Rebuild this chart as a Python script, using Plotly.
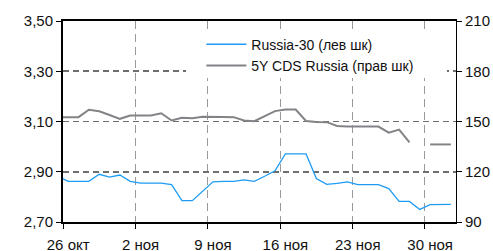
import plotly.graph_objects as go
import pandas as pd

# ---- data ----
dates = pd.date_range("2012-10-25", "2012-12-02", freq="D") + pd.Timedelta(hours=12)

russia30 = [2.883,
            2.862, 2.862, 2.862, 2.890, 2.879, 2.887, 2.862, 2.855, 2.855, 2.855,
            2.849, 2.785, 2.785, 2.821, 2.860, 2.862, 2.862, 2.868, 2.862, 2.882,
            2.904, 2.971, 2.971, 2.971, 2.873, 2.850, 2.854, 2.860, 2.849, 2.849,
            2.849, 2.833, 2.782, 2.782, 2.750, 2.769, 2.770, 2.770]

cds5y = [152.6,
         152.6, 152.6, 157.0, 156.1, 153.9, 151.6, 153.6, 153.6, 153.6, 154.9,
         150.6, 152.2, 152.0, 152.8, 152.9, 152.7, 152.6, 150.6, 150.2, 153.0,
         156.2, 157.1, 157.1, 150.3, 149.7, 149.6, 147.3, 147.0, 147.0, 147.0,
         147.0, 143.3, 145.2, 137.5, None, 136.3, 136.3, 136.3]

tick_dates = ["2012-10-26", "2012-11-02", "2012-11-09", "2012-11-16", "2012-11-23", "2012-11-30"]
tick_labels = ["26 окт", "2 ноя", "9 ноя", "16 ноя", "23 ноя", "30 ноя"]

left_ticks = [2.70, 2.90, 3.10, 3.30, 3.50]
right_ticks = [90, 120, 150, 180, 210]

name_left = "Russia-30 (лев шк)"
name_right = "5Y CDS Russia (прав шк)"

# ---- figure ----
FONT = "Liberation Sans, Arial, Helvetica, sans-serif"
label_pos = [pd.Timestamp(d) + pd.Timedelta(hours=12) for d in tick_dates]

fig = go.Figure()
fig.add_trace(go.Scatter(x=dates, y=russia30, name=name_left, mode="lines",
                         line=dict(color="#1e9cf5", width=1.3), yaxis="y"))
fig.add_trace(go.Scatter(x=dates, y=cds5y, name=name_right, mode="lines",
                         line=dict(color="#858287", width=2), yaxis="y2",
                         connectgaps=False))

fig.update_layout(
    width=493, height=251, autosize=False,
    margin=dict(l=63, r=37, t=21, b=29, pad=0),
    paper_bgcolor="white", plot_bgcolor="white",
    font=dict(family=FONT, size=15, color="#111"),
    separators=", ",
    showlegend=True,
    legend=dict(x=0.352, y=0.962, xanchor="left", yanchor="top",
                bgcolor="rgba(0,0,0,0)", font=dict(size=14, family=FONT),
                itemwidth=40, tracegroupgap=0),
    xaxis=dict(
        type="date",
        range=["2012-10-26", "2012-12-03"],
        tickmode="array", tickvals=label_pos, ticktext=tick_labels,
        ticks="", showgrid=False,
        ticklabelstandoff=8, automargin=False,
        showline=True, linecolor="black", linewidth=2, mirror=True,
        minor=dict(tickmode="array", tickvals=tick_dates, ticks="outside",
                   ticklen=5, tickcolor="black", tickwidth=1,
                   showgrid=True, gridcolor="#9a9a9a", gridwidth=1,
                   griddash="8px,5px"),
        zeroline=False,
    ),
    yaxis=dict(
        range=[2.70, 3.50], tickmode="array", tickvals=left_ticks,
        tickformat=".2f", automargin=False,
        ticks="outside", ticklen=5, tickcolor="black",
        showline=True, linecolor="black", linewidth=2,
        showgrid=True, gridcolor="#6e6e6e", gridwidth=1.6, griddash="6px,4px",
        zeroline=False,
    ),
    yaxis2=dict(
        range=[90, 210], tickmode="array", tickvals=right_ticks,
        overlaying="y", side="right", automargin=False,
        ticks="outside", ticklen=5, tickcolor="black",
        showline=True, linecolor="black", linewidth=1,
        showgrid=False, zeroline=False,
    ),
    shapes=[dict(type="rect", xref="paper", yref="paper",
                 x0=0.313, x1=0.977, y0=0.716, y1=0.94,
                 fillcolor="white", line=dict(width=0), layer="above")],
)

fig.write_html(
    "out.html",
    config={"displayModeBar": False, "staticPlot": True},
    post_script="document.body.style.margin='0';document.body.style.padding='0';"
                "document.documentElement.style.overflow='hidden';",
)
